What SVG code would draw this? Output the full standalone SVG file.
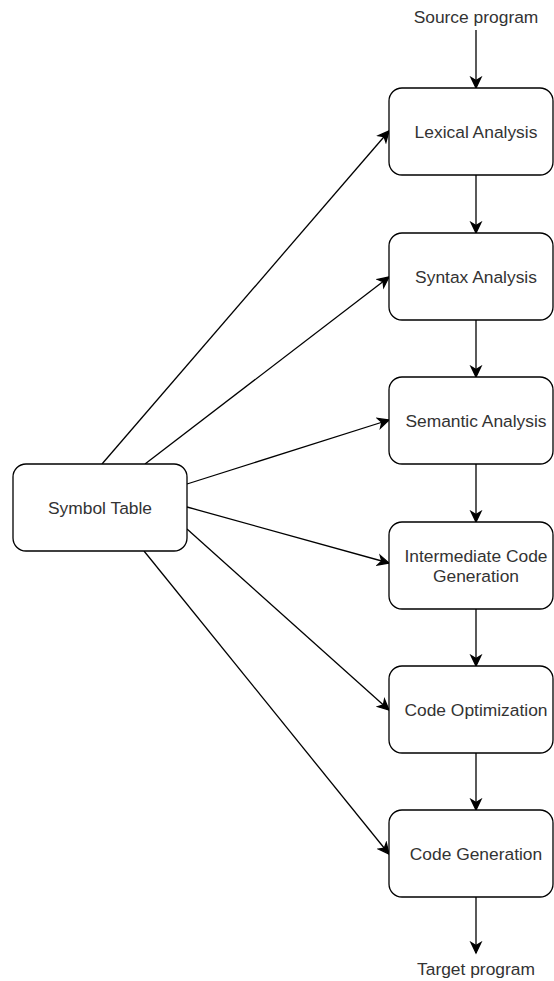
<svg xmlns="http://www.w3.org/2000/svg" width="554" height="981" viewBox="0 0 554 981">
<style>
.box{fill:#fff;stroke:#000;stroke-width:1.3}
.lbl{font-family:"Liberation Sans",Arial,sans-serif;font-size:17.4px;fill:#333;text-anchor:middle}
.edge{stroke:#000;stroke-width:1.3;fill:none;marker-end:url(#arr)}
</style>
<defs>
<marker id="arr" markerUnits="userSpaceOnUse" markerWidth="14" markerHeight="14" viewBox="0 0 14 14" refX="12" refY="7" orient="auto">
<path d="M1.5,2 L12,7 L1.5,12 L4.5,7 Z" fill="#000" stroke="#000" stroke-width="1.3"/>
</marker>
</defs>
<rect width="554" height="981" fill="#fff"/>
<g id="connectors">
<line class="edge" x1="476" y1="30" x2="476" y2="88"/>
<line class="edge" x1="476" y1="175" x2="476" y2="233"/>
<line class="edge" x1="476" y1="320" x2="476" y2="377"/>
<line class="edge" x1="476" y1="464" x2="476" y2="522"/>
<line class="edge" x1="476" y1="609" x2="476" y2="666"/>
<line class="edge" x1="476" y1="753" x2="476" y2="810"/>
<line class="edge" x1="476" y1="897" x2="476" y2="953"/>
<line class="edge" x1="102" y1="464" x2="389" y2="131"/>
<line class="edge" x1="145" y1="464" x2="389" y2="277"/>
<line class="edge" x1="187" y1="484" x2="389" y2="420"/>
<line class="edge" x1="187" y1="507" x2="389" y2="563"/>
<line class="edge" x1="187" y1="529" x2="389" y2="710"/>
<line class="edge" x1="144" y1="551" x2="389" y2="854"/>
</g>
<g id="source"><text class="lbl" x="476" y="22.5">Source program</text></g>
<g id="target"><text class="lbl" x="476" y="975">Target program</text></g>
<g id="symbol"><rect class="box" x="13" y="464" width="174" height="87" rx="13"/><text class="lbl" x="100" y="513.5">Symbol Table</text></g>
<g id="lexical"><rect class="box" x="389" y="88" width="164" height="87" rx="13"/><text class="lbl" x="476" y="137.5">Lexical Analysis</text></g>
<g id="syntax"><rect class="box" x="389" y="233" width="164" height="87" rx="13"/><text class="lbl" x="476" y="282.5">Syntax Analysis</text></g>
<g id="semantic"><rect class="box" x="389" y="377" width="164" height="87" rx="13"/><text class="lbl" x="476" y="426.5">Semantic Analysis</text></g>
<g id="intermediate"><rect class="box" x="389" y="522" width="164" height="87" rx="13"/><text class="lbl" x="476" y="561.5">Intermediate Code</text><text class="lbl" x="476" y="582">Generation</text></g>
<g id="optimization"><rect class="box" x="389" y="666" width="164" height="87" rx="13"/><text class="lbl" x="476" y="715.5">Code Optimization</text></g>
<g id="generation"><rect class="box" x="389" y="810" width="164" height="87" rx="13"/><text class="lbl" x="476" y="859.5">Code Generation</text></g>
</svg>
